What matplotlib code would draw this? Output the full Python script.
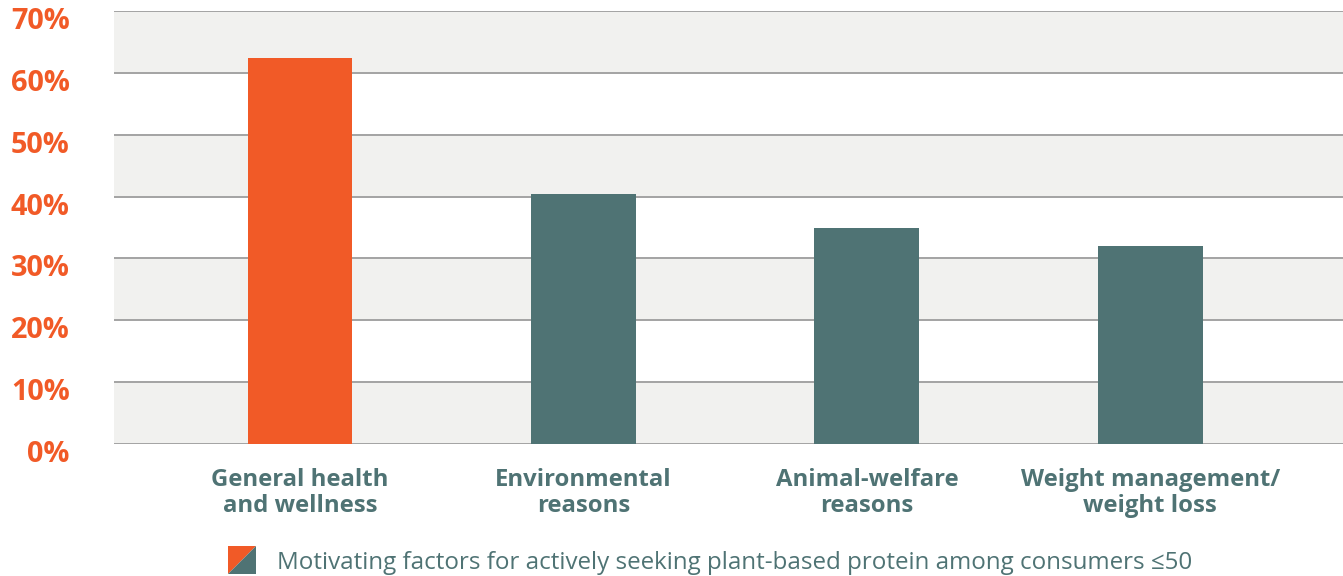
import numpy as np
import matplotlib.pyplot as plt
from matplotlib.patches import Polygon
from matplotlib.transforms import ScaledTranslation

categories = ["General health\nand wellness", "Environmental\nreasons",
              "Animal-welfare\nreasons", "Weight management/\nweight loss"]
values = [62.4, 40.4, 34.9, 32.0]
highlight = [True, False, False, False]
yticks = [0, 10, 20, 30, 40, 50, 60, 70]
legend_label = "Motivating factors for actively seeking plant-based protein among consumers \u226450"

orange = "#f15a27"
teal = "#4f7374"
band = "#f1f1ef"
grid = "#a3a3a3"

plt.rcParams['font.family'] = ['Open Sans', 'DejaVu Sans']

fig = plt.figure(figsize=(13.43, 5.76), dpi=100)
ax = fig.add_axes([114/1343, 132/576, 1229/1343, 433/576])

# alternating background bands
for i, lo in enumerate(yticks[:-1]):
    if i % 2 == 0:
        ax.axhspan(lo, lo + 10, color=band, zorder=0, lw=0)
for t in yticks:
    ax.axhline(t, color=grid, lw=1.4, zorder=1)

x = np.arange(len(categories))
colors = [orange if h else teal for h in highlight]
ax.bar(x, values, width=0.37, color=colors, zorder=2)

ax.set_xlim(-0.656, 3.68)
ax.set_ylim(0, 70)
ax.set_yticks(yticks)
ax.set_yticklabels([f"{t}%" for t in yticks], color=orange, fontsize=20.8, fontweight='bold')
ax.set_xticks(x)
ax.set_xticklabels(categories, color=teal, fontsize=17.2, fontweight='bold', linespacing=1.15)
ax.tick_params(axis='y', length=0, pad=32)
ax.tick_params(axis='x', length=0, pad=17)
for s in ax.spines.values():
    s.set_visible(False)

# the percentage labels sit a little below their grid lines
shift = ScaledTranslation(0, -7/100, fig.dpi_scale_trans)
for lab in ax.get_yticklabels():
    lab.set_transform(lab.get_transform() + shift)

# legend marker: split square
x0, x1 = 228/1343, 256/1343
y0, y1 = 1 - 574/576, 1 - 546/576
fig.patches.append(Polygon([(x0, y0), (x0, y1), (x1, y1)], closed=True,
                           transform=fig.transFigure, color=orange, lw=0))
fig.patches.append(Polygon([(x0, y0), (x1, y1), (x1, y0)], closed=True,
                           transform=fig.transFigure, color=teal, lw=0))
fig.text(277/1343, 1 - 563/576, legend_label, color=teal, fontsize=17.4, va='center', ha='left')

fig.savefig('out.png', dpi=100)
